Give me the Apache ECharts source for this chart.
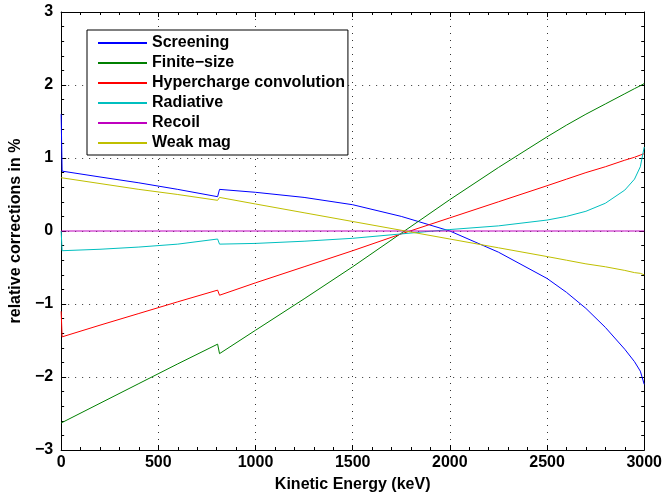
<!DOCTYPE html>
<html>
<head>
<meta charset="utf-8">
<title>relative corrections</title>
<script src="https://cdn.jsdelivr.net/npm/echarts@6/dist/echarts.min.js"></script>
<style>
html, body { margin: 0; padding: 0; background: #fff; }
#chart { width: 665px; height: 498px; }
</style>
</head>
<body>
<div id="chart"></div>
<script>
// energy grid (keV), jump near 810 keV
var energy     = [0, 5, 200, 400, 600, 805, 815, 1000, 1250, 1500, 1750, 2000, 2250, 2500, 2600, 2700, 2800, 2900, 2950, 2980, 3000];
// corrections in %
var screening  = [1.6, 0.82, 0.74, 0.66, 0.57, 0.47, 0.57, 0.53, 0.46, 0.36, 0.2, 0.0, -0.29, -0.65, -0.84, -1.06, -1.32, -1.62, -1.79, -1.92, -2.1];
var finiteSize = [-2.63, -2.62, -2.36, -2.09, -1.82, -1.55, -1.68, -1.36, -0.93, -0.49, -0.03, 0.43, 0.87, 1.29, 1.45, 1.6, 1.74, 1.88, 1.95, 1.99, 2.02];
var hypercharge = [-1.1, -1.45, -1.29, -1.13, -0.97, -0.81, -0.88, -0.71, -0.49, -0.27, -0.04, 0.18, 0.4, 0.62, 0.71, 0.8, 0.88, 0.97, 1.01, 1.04, 1.06];
var radiative  = [0, -0.27, -0.25, -0.22, -0.18, -0.11, -0.18, -0.17, -0.14, -0.1, -0.04, 0.02, 0.07, 0.15, 0.2, 0.27, 0.38, 0.56, 0.71, 0.88, 1.15];
var recoil     = [0, 0, 0, 0, 0, 0, 0, 0, 0, 0, 0, 0, 0, 0, 0, 0, 0, 0, 0, 0, 0];
var weakMag    = [0.73, 0.73, 0.65, 0.57, 0.5, 0.42, 0.46, 0.37, 0.25, 0.13, 0.01, -0.11, -0.23, -0.35, -0.4, -0.45, -0.49, -0.54, -0.57, -0.58, -0.6];

var seriesNames  = ['Screening', 'Finite\u2212size', 'Hypercharge convolution', 'Radiative', 'Recoil', 'Weak mag'];
var seriesValues = [screening, finiteSize, hypercharge, radiative, recoil, weakMag];
var seriesColors = ['#0000ff', '#008000', '#ff0000', '#00bfbf', '#bf00bf', '#bfbf00'];

var xTicks = [0, 500, 1000, 1500, 2000, 2500, 3000];
var yTicks = [-3, -2, -1, 0, 1, 2, 3];

var font = "'Liberation Sans', Arial, sans-serif";

function pairs(vals) {
    return energy.map(function (e, i) { return [e, vals[i]]; });
}
function tickLabel(v) {
    return v < 0 ? '\u2212' + Math.abs(v) : String(v);
}

// shared axis pieces (matlab look: ticks inside, dotted grid)
function axisBase(ticks, withLabels, withGrid, pos) {
    return {
        type: 'value',
        position: pos,
        min: ticks[0],
        max: ticks[ticks.length - 1],
        interval: ticks[1] - ticks[0],
        axisLine: { show: true, onZero: false, lineStyle: { color: '#000', width: 1 } },
        axisTick: { show: true, inside: true, length: 5, lineStyle: { color: '#000' } },
        minorTick: { show: true, splitNumber: 5, length: 3, lineStyle: { color: '#000' } },
        axisLabel: {
            show: withLabels,
            formatter: tickLabel,
            color: '#000',
            fontFamily: font,
            fontWeight: 'bold',
            fontSize: 16
        },
        splitLine: { show: withGrid, lineStyle: { color: '#333', width: 1, type: [1, 6] } }
    };
}

var xBottom = axisBase(xTicks, true, true, 'bottom');
xBottom.name = 'Kinetic Energy (keV)';
xBottom.nameLocation = 'middle';
xBottom.nameGap = 27;
xBottom.nameTextStyle = { color: '#000', fontFamily: font, fontWeight: 'bold', fontSize: 16 };
xBottom.axisLabel.margin = 5;
var xTop = axisBase(xTicks, false, false, 'top');

var yLeft = axisBase(yTicks, true, true, 'left');
yLeft.name = 'relative corrections in %';
yLeft.nameLocation = 'middle';
yLeft.nameGap = 28;
yLeft.nameTextStyle = { color: '#000', fontFamily: font, fontWeight: 'bold', fontSize: 16 };
yLeft.axisLabel.margin = 8;
var yRight = axisBase(yTicks, false, false, 'right');

var series = seriesNames.map(function (name, i) {
    return {
        name: name,
        type: 'line',
        xAxisIndex: 0,
        yAxisIndex: 0,
        data: pairs(seriesValues[i]),
        showSymbol: false,
        symbol: 'none',
        smooth: false,
        color: seriesColors[i],
        lineStyle: { width: 1, color: seriesColors[i] }
    };
});

var chart = echarts.init(document.getElementById('chart'));
chart.setOption({
    animation: false,
    backgroundColor: '#fff',
    grid: { left: 56, right: 19, top: 12, bottom: 45, containLabel: false },
    xAxis: [xBottom, xTop],
    yAxis: [yLeft, yRight],
    legend: {
        orient: 'vertical',
        left: 87,
        top: 30,
        padding: [5, 3, 4, 11],
        itemGap: 4,
        itemWidth: 49,
        itemHeight: 2,
        icon: 'rect',
        backgroundColor: '#fff',
        borderColor: '#000',
        borderWidth: 1,
        borderRadius: 0,
        textStyle: { color: '#000', fontFamily: font, fontWeight: 'bold', fontSize: 16, lineHeight: 16 },
        data: seriesNames
    },
    series: series
});
</script>
</body>
</html>
